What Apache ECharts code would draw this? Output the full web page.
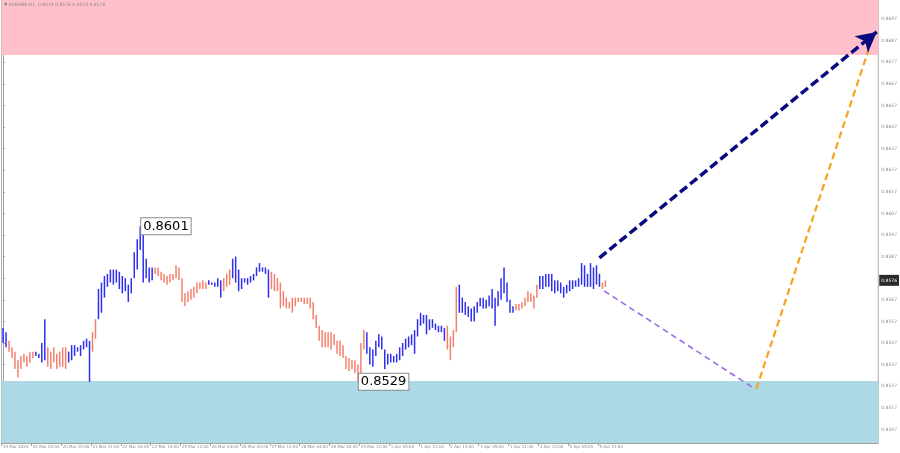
<!DOCTYPE html>
<html><head><meta charset="utf-8">
<script src="https://cdn.jsdelivr.net/npm/echarts@6/dist/echarts.min.js"></script>
<style>html,body{margin:0;padding:0;background:#fff}#c{width:900px;height:453px}</style>
</head><body><div id="c"></div>
<script>
// ---- data ----
const tickLabels = ["19 Mar 2024","20 Mar 03:00","20 Mar 19:00","21 Mar 11:00","22 Mar 03:00","22 Mar 19:00","25 Mar 12:00","26 Mar 04:00","26 Mar 20:00","27 Mar 12:00","28 Mar 04:00","28 Mar 20:00","29 Mar 12:00","1 Apr 05:00","1 Apr 21:00","2 Apr 13:00","3 Apr 05:00","3 Apr 21:00","4 Apr 13:00","5 Apr 05:00","5 Apr 21:00"];
const priceTicks = [0.8507,0.8517,0.8527,0.8537,0.8547,0.8557,0.8567,0.8577,0.8587,0.8597,0.8607,0.8617,0.8627,0.8637,0.8647,0.8657,0.8667,0.8677,0.8687,0.8697];
const highs = [0.8554,0.8552,0.8548,0.8545,0.8543,0.8539,0.8541,0.8542,0.8541,0.8543,
0.8543,0.8543,0.8542,0.8547,0.8558,0.8545,0.8543,0.8545,0.8542,0.8543,
0.8545,0.8545,0.8543,0.8546,0.8546,0.8545,0.8546,0.8548,0.8549,0.8548,
0.8552,0.8558,0.8572,0.8575,0.8578,0.8579,0.8581,0.8581,0.8581,0.8580,
0.8578,0.8577,0.8574,0.8577,0.8589,0.8595,0.8601,0.8598,0.8586,0.8582,
0.8582,0.8582,0.8582,0.8580,0.8579,0.8578,0.8579,0.8579,0.8583,0.8582,
0.8577,0.8570,0.8571,0.8572,0.8573,0.8575,0.8575,0.8576,0.8575,0.8576,
0.8575,0.8575,0.8577,0.8576,0.8577,0.8579,0.8581,0.8586,0.8587,0.8581,
0.8577,0.8577,0.8577,0.8578,0.8579,0.8582,0.8584,0.8582,0.8582,0.8581,
0.8580,0.8579,0.8577,0.8575,0.8571,0.8568,0.8566,0.8568,0.8568,0.8568,
0.8568,0.8568,0.8568,0.8568,0.8566,0.8560,0.8555,0.8553,0.8552,0.8552,
0.8552,0.8551,0.8548,0.8548,0.8546,0.8541,0.8540,0.8539,0.8539,0.8537,
0.8547,0.8553,0.8552,0.8545,0.8544,0.8548,0.8551,0.8550,0.8544,0.8542,
0.8542,0.8541,0.8542,0.8545,0.8547,0.8549,0.8550,0.8551,0.8553,0.8558,
0.8561,0.8560,0.8560,0.8558,0.8558,0.8556,0.8555,0.8555,0.8554,0.8555,
0.8550,0.8553,0.8573,0.8574,0.8568,0.8566,0.8564,0.8563,0.8564,0.8566,
0.8568,0.8568,0.8567,0.8569,0.8572,0.8568,0.8571,0.8577,0.8582,0.8575,
0.8567,0.8564,0.8565,0.8565,0.8566,0.8568,0.8571,0.8570,0.8569,0.8574,
0.8578,0.8578,0.8579,0.8579,0.8579,0.8576,0.8576,0.8575,0.8573,0.8574,
0.8576,0.8576,0.8576,0.8577,0.8584,0.8583,0.8579,0.8584,0.8582,0.8583,
0.8579,0.8575,0.8576];
const lows = [0.8547,0.8545,0.8543,0.8540,0.8535,0.8531,0.8535,0.8538,0.8536,0.8538,
0.8540,0.8541,0.8540,0.8538,0.8539,0.8536,0.8535,0.8538,0.8535,0.8536,
0.8536,0.8535,0.8538,0.8539,0.8541,0.8543,0.8541,0.8544,0.8545,0.8529,
0.8543,0.8549,0.8558,0.8561,0.8568,0.8573,0.8575,0.8574,0.8575,0.8572,
0.8570,0.8571,0.8566,0.8570,0.8577,0.8581,0.8590,0.8575,0.8577,0.8575,
0.8576,0.8579,0.8578,0.8576,0.8575,0.8574,0.8575,0.8576,0.8577,0.8576,
0.8566,0.8564,0.8566,0.8567,0.8568,0.8570,0.8572,0.8572,0.8572,0.8574,
0.8574,0.8573,0.8573,0.8568,0.8571,0.8573,0.8574,0.8577,0.8575,0.8571,
0.8572,0.8575,0.8574,0.8575,0.8576,0.8578,0.8580,0.8580,0.8579,0.8568,
0.8572,0.8571,0.8571,0.8563,0.8564,0.8563,0.8563,0.8561,0.8564,0.8566,
0.8566,0.8565,0.8565,0.8563,0.8558,0.8554,0.8548,0.8545,0.8545,0.8545,
0.8544,0.8546,0.8542,0.8541,0.8540,0.8535,0.8534,0.8535,0.8533,0.8529,
0.8533,0.8544,0.8542,0.8537,0.8536,0.8541,0.8545,0.8544,0.8535,0.8537,
0.8538,0.8538,0.8538,0.8539,0.8541,0.8544,0.8545,0.8546,0.8542,0.8550,
0.8555,0.8556,0.8551,0.8553,0.8554,0.8553,0.8552,0.8552,0.8548,0.8544,
0.8539,0.8545,0.8552,0.8561,0.8561,0.8560,0.8559,0.8557,0.8557,0.8561,
0.8564,0.8563,0.8563,0.8564,0.8563,0.8555,0.8564,0.8567,0.8570,0.8566,
0.8561,0.8561,0.8562,0.8562,0.8563,0.8564,0.8566,0.8566,0.8563,0.8568,
0.8572,0.8572,0.8573,0.8573,0.8571,0.8570,0.8571,0.8570,0.8568,0.8570,
0.8571,0.8572,0.8573,0.8573,0.8574,0.8573,0.8573,0.8573,0.8572,0.8574,
0.8573,0.8572,0.8573];
// bar index where each wave starts; first wave is rising, then they alternate
const waveStarts = [0,2,11,15,22,30,32,51,69,74,77,90,122,149,153,172,180,201];
const totalSlots = 294;
const peakLabel = {index: 46, value: 0.8601};
const troughLabel = {index: 119, value: 0.8529};
const lastPrice = 0.8576;
const sellZone = [0.86803, 0.87058];
const buyZone = [0.85007, 0.85294];
const mainForecast = [[200, 0.85864], [293, 0.8691]];
const altDown = [[201.6, 0.85711], [251.6, 0.85262]];
const altUp = [[252.6, 0.85257], [290.2, 0.86826]];
const titleText = "EURGBP,H1  0.8574 0.8576 0.8574 0.8576";

// ---- build ----
function waveDir(i){ let k = 0; for (let j=0;j<waveStarts.length;j++){ if (i>=waveStarts[j]) k=j; } return k%2===0 ? 1 : -1; }
const barData = highs.map((h,i)=>[i, h, lows[i], waveDir(i)]);
const UP = '#2f2ff0', DOWN = '#f4806c';

const chart = echarts.init(document.getElementById('c'), null, {renderer:'canvas'});
const axisFont = {fontFamily:'DejaVu Sans', fontSize:4, color:'#8a8a8a'};
chart.setOption({
  animation:false,
  backgroundColor:'#fff',
  grid:{left:0, right:17, top:0, bottom:10, show:true, borderColor:'#b0b0b0', borderWidth:1, backgroundColor:'#fff'},
  graphic:[{type:'text', left:4, top:2, z:100, style:{text:'▼ '+titleText, font:'4.5px DejaVu Sans', fill:'#8a8a8a'}}],
  xAxis:{type:'value', min:-0.5, max:totalSlots-0.5, splitLine:{show:false},
    axisLine:{show:true, lineStyle:{color:'#a0a0a0'}},
    axisTick:{show:true, length:3, customValues: tickLabels.map((t,k)=>k*10-0.5), lineStyle:{color:'#a0a0a0'}},
    axisLabel:Object.assign({customValues: tickLabels.map((t,k)=>k*10), align:'left', margin:2,
      formatter:(v)=>tickLabels[Math.round(v/10)] || ''}, axisFont)},
  yAxis:{type:'value', position:'right', min:buyZone[0], max:sellZone[1], scale:true, splitLine:{show:false},
    axisLine:{show:true, lineStyle:{color:'#a0a0a0'}},
    axisTick:{show:true, length:2, customValues:priceTicks, lineStyle:{color:'#a0a0a0'}},
    axisLabel:Object.assign({customValues:priceTicks, margin:3, formatter:(v)=>v.toFixed(4)}, axisFont, {fontSize:4.5})},
  series:[
    {type:'line', data:[], z:1, silent:true,
      markArea:{silent:true, data:[
        [{yAxis:sellZone[0], itemStyle:{color:'#ffc0cb'}},{yAxis:sellZone[1]}],
        [{yAxis:buyZone[0], itemStyle:{color:'#add8e6'}},{yAxis:buyZone[1]}]
      ]}},
    {type:'custom', z:5, data:barData, encode:{x:0, y:[1,2]}, clip:false,
      renderItem:function(params, api){
        const a = api.coord([api.value(0), api.value(1)]);
        const b = api.coord([api.value(0), api.value(2)]);
        return {type:'rect', shape:{x:a[0]-0.7, y:a[1], width:1.5, height:Math.max(1.5, b[1]-a[1])},
          style:{fill: api.value(3) > 0 ? UP : DOWN}};
      },
      markPoint:{symbol:'rect', symbolSize:0, data:[
        {coord:[peakLabel.index, peakLabel.value], value:peakLabel.value.toFixed(4)},
        {coord:[troughLabel.index, troughLabel.value], value:troughLabel.value.toFixed(4)}
      ], label:{show:true, position:'right', distance:1, formatter:(p)=>p.value,
        fontFamily:'DejaVu Sans', fontSize:13, color:'#000', backgroundColor:'#fff',
        borderColor:'#8a8a8a', borderWidth:1, padding:[2,2,1,2]}}},
    {type:'scatter', z:20, data:[], clip:false,
      markPoint:{symbol:'rect', symbolSize:0, data:[{coord:[totalSlots-0.5, lastPrice], value:lastPrice.toFixed(4)}],
        label:{show:true, position:'right', distance:1, formatter:(p)=>p.value, fontFamily:'DejaVu Sans', fontSize:4.5,
          color:'#fff', backgroundColor:'#2a2a2a', padding:[3,2]}}},
    {type:'line', data:[], z:6, markLine:{silent:true, symbol:['none','none'], animation:false,
      lineStyle:{color:'#9a6ee6', width:1.6, type:[6,4]}, label:{show:false},
      data:[[{coord:altDown[0]},{coord:altDown[1]}]]}},
    {type:'line', data:[], z:6, markLine:{silent:true, symbol:['none','none'], animation:false,
      lineStyle:{color:'#f5a21e', width:2.2, type:[7,4]}, label:{show:false},
      data:[[{coord:altUp[0]},{coord:altUp[1]}]]}},
    {type:'line', data:[], z:7, markLine:{silent:true, symbol:['none','arrow'], symbolSize:[16,20], animation:false,
      lineStyle:{color:'#0a0a80', width:3.5, type:[9,4]}, label:{show:false},
      data:[[{coord:mainForecast[0]},{coord:mainForecast[1]}]]}}
  ]
});
</script></body></html>
